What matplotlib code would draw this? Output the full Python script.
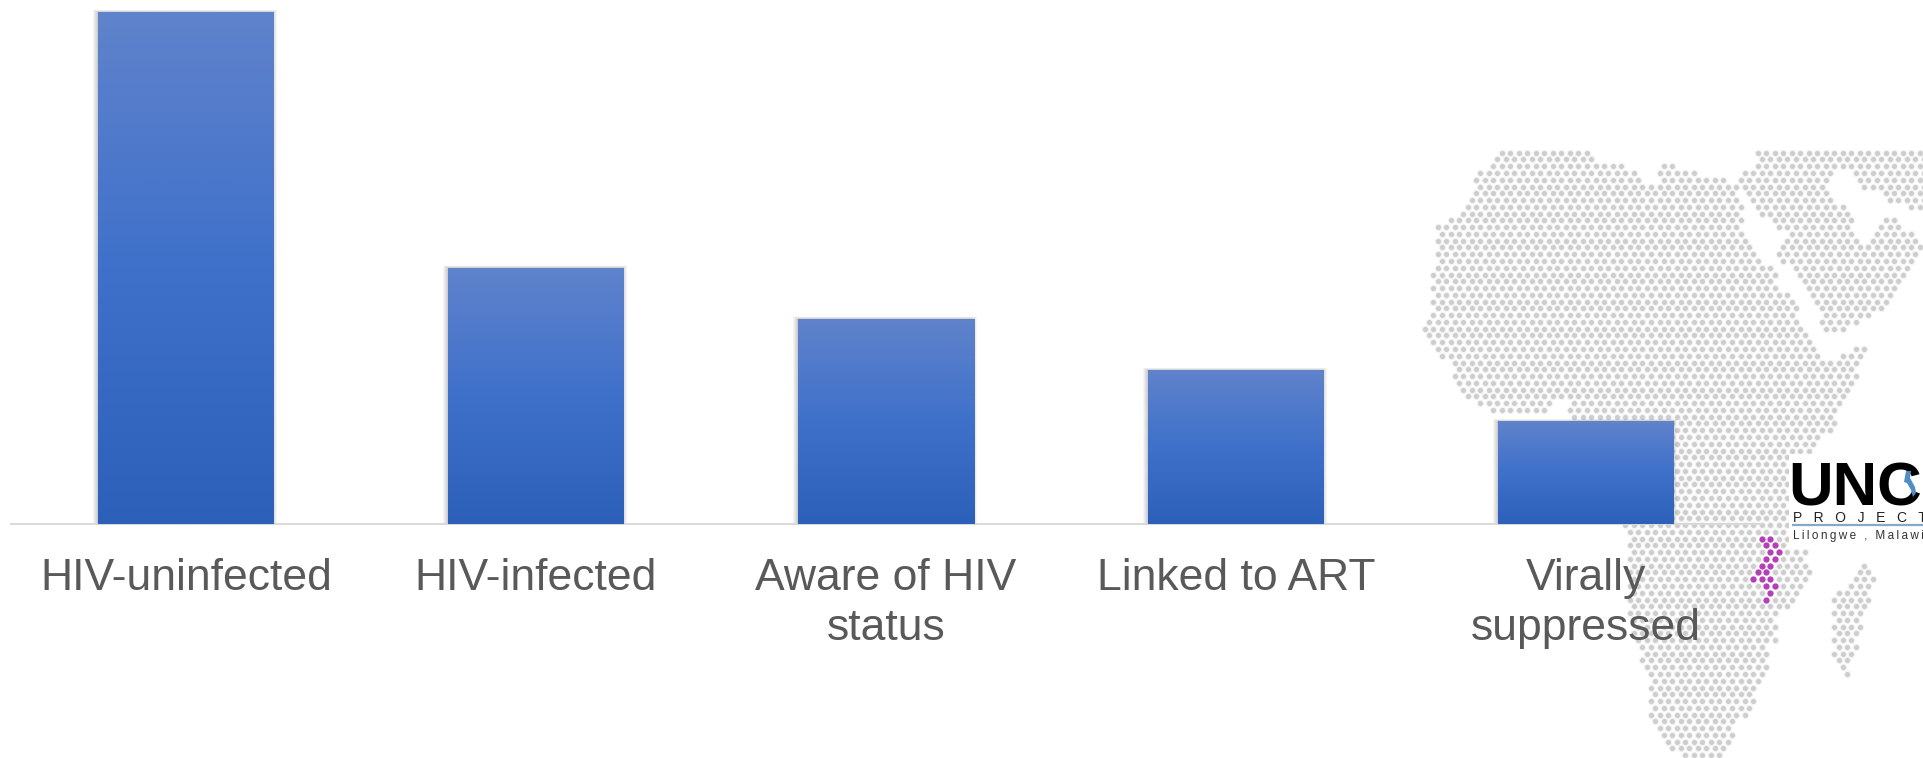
import matplotlib
matplotlib.use("Agg")
import matplotlib.pyplot as plt
import numpy as np
from matplotlib.colors import LinearSegmentedColormap
from matplotlib.patches import Polygon, Rectangle
from matplotlib.path import Path

plt.rcParams["font.family"] = ["Liberation Sans", "DejaVu Sans"]

# Cascade data
categories = ["HIV-uninfected", "HIV-infected", "Aware of HIV\nstatus", "Linked to ART", "Virally\nsuppressed"]
values = [100, 50, 40, 30, 20]

# Backdrop map outlines, in figure pixels
west_africa = [
    (1500, 150), (1590, 150), (1594, 159), (1614, 164), (1637, 170), (1641, 177), (1646, 184), (1655, 184),
    (1663, 164), (1674, 164), (1670, 172), (1683, 171), (1693, 171), (1715, 177), (1737, 184), (1735, 193),
    (1738, 200), (1742, 207), (1742, 220), (1740, 233), (1745, 240), (1752, 247), (1755, 255), (1772, 267),
    (1777, 274), (1775, 287), (1788, 294), (1798, 308), (1798, 322), (1808, 335), (1815, 345), (1830, 361),
    (1843, 355), (1860, 345), (1868, 346), (1857, 374), (1847, 394), (1832, 430), (1817, 445), (1813, 456),
    (1800, 470), (1800, 540), (1807, 552), (1812, 572), (1805, 580), (1793, 600), (1788, 607), (1777, 612),
    (1777, 640), (1770, 647), (1768, 667), (1763, 673), (1757, 687), (1755, 702), (1747, 715), (1733, 722),
    (1733, 735), (1725, 748), (1720, 760), (1683, 760), (1670, 748), (1663, 735), (1657, 728), (1648, 713),
    (1648, 673), (1642, 660), (1636, 645), (1630, 615), (1627, 602), (1630, 550), (1623, 526), (1600, 470),
    (1573, 417), (1567, 408), (1567, 401), (1557, 401), (1547, 412), (1492, 412), (1478, 405), (1467, 399),
    (1463, 390), (1453, 375), (1453, 362), (1440, 357), (1432, 342), (1421, 328), (1430, 314), (1430, 301),
    (1434, 294), (1430, 287), (1434, 281), (1430, 274), (1434, 267), (1438, 261), (1434, 254), (1438, 247),
    (1434, 240), (1434, 225), (1450, 218), (1460, 213), (1465, 205), (1469, 198), (1473, 191), (1476, 186),
    (1471, 179), (1476, 171), (1490, 164),
]
arabia = [
    (1755, 150), (1930, 150), (1930, 208), (1908, 207), (1887, 200), (1877, 193), (1863, 187), (1857, 179),
    (1850, 170), (1835, 170), (1833, 175), (1828, 187), (1833, 200), (1845, 207), (1855, 220), (1855, 233),
    (1862, 243), (1870, 240), (1877, 228), (1883, 218), (1897, 218), (1900, 227), (1912, 233), (1920, 240),
    (1920, 255), (1912, 267), (1902, 280), (1897, 287), (1888, 301), (1883, 308), (1872, 315), (1858, 322),
    (1845, 332), (1825, 332), (1820, 322), (1815, 301), (1810, 294), (1802, 280), (1793, 269), (1778, 262),
    (1778, 247), (1785, 233), (1777, 227), (1772, 220), (1760, 213), (1755, 207), (1752, 200), (1747, 193),
    (1736, 179), (1742, 171), (1753, 166),
]
madagascar = [
    (1864, 561), (1877, 578), (1867, 607), (1860, 627), (1857, 647), (1847, 677), (1831, 653), (1831, 640),
    (1836, 620), (1831, 600), (1835, 590), (1850, 583), (1857, 570),
]
malawi_outline = [
    (1906, 471), (1911, 471), (1910, 478), (1915, 487), (1916, 493), (1913, 497), (1911, 490), (1907, 483), (1904, 482),
]

# Highlighted map cells: row -> columns
highlight_cells = {
    57: [30, 31], 58: [31, 32], 59: [31, 32], 60: [31, 32], 61: [30, 31],
    62: [30, 31], 63: [29, 30, 31], 64: [31, 32], 65: [31], 66: [31],
}

W, H = 1924, 758
fig = plt.figure(figsize=(W / 100, H / 100), dpi=100, facecolor="white")


def dot_size(px):
    return (px * 0.72) ** 2


# Backdrop: hexagonal dot map
bg = fig.add_axes([0, 0, 1, 1], zorder=0)
bg.set_xlim(0, W)
bg.set_ylim(H, 0)
bg.axis("off")

X0, Y0, DX, DY = 1501.7, 152.7, 8.53, 6.77
rows = np.arange(0, 90)
cols = np.arange(-12, 52)
rr, cc = np.meshgrid(rows, cols, indexing="ij")
gx = X0 + DX * (cc + 0.5 * (rr % 2))
gy = Y0 + DY * rr
pts = np.column_stack([gx.ravel(), gy.ravel()])
inside = np.zeros(len(pts), dtype=bool)
for outline in (west_africa, arabia, madagascar):
    p = Path(outline + [outline[0]])
    inside |= p.contains_points(pts)
# Clear the rectangle the logo sits on
logo_box = (pts[:, 0] > 1789) & (pts[:, 1] > 452) & (pts[:, 1] < 547)
inside &= ~logo_box
land = pts[inside]
bg.scatter(land[:, 0], land[:, 1], s=dot_size(7.2), color="#F1F1F1", linewidths=0, zorder=1)
bg.scatter(land[:, 0], land[:, 1], s=dot_size(5.0), color="#CDCDCD", linewidths=0, zorder=2)

hx = [X0 + DX * (c + 0.5 * (r % 2)) for r, cs in highlight_cells.items() for c in cs]
hy = [Y0 + DY * r for r, cs in highlight_cells.items() for c in cs]
bg.scatter(hx, hy, s=dot_size(6.2), color="#B83DBB", linewidths=0, zorder=3)

# Logo block
bg.add_patch(Rectangle((1789, 454), 140, 93, facecolor="white", edgecolor="none", zorder=4))
bg.text(1788, 505, "UNC", fontsize=44.5, fontweight="bold", color="black", va="baseline", ha="left", zorder=5,
        clip_on=True)
bg.add_patch(Polygon(malawi_outline, closed=True, facecolor="#4F8DC4", edgecolor="none", zorder=6))
bg.text(1793, 522, "P   R   O   J   E   C   T", fontsize=10.0, color="#222222", va="baseline", ha="left", zorder=5,
        clip_on=True)
bg.plot([1792, 1924], [525.3, 525.3], color="#84A9CC", lw=1.6, solid_capstyle="butt", zorder=5)
bg.text(1793, 539, "\u2009".join("Lilongwe , Malawi"), fontsize=8.5, color="#333333", va="baseline", ha="left",
        zorder=5, clip_on=True)

# Cascade bars
ax = fig.add_axes([11 / W, (H - 523.6) / H, 1750 / W, 511.6 / H], zorder=1)
ax.patch.set_alpha(0)
x = np.arange(len(categories))
bar_width = 176 / 350
bars = ax.bar(x, values, width=bar_width, color="#3E70CA", linewidth=0, zorder=3)

gradient = LinearSegmentedColormap.from_list("bar_fill", ["#6083CC", "#3F71CA", "#2D60B8"])
ramp = np.linspace(0, 1, 512).reshape(-1, 1)
px_x = 1 / 350
px_y = 100 / 511.6
for bar in bars:
    left, w, h = bar.get_x(), bar.get_width(), bar.get_height()
    # Soft drop shadow built from stacked translucent rectangles, heavier on the left
    for d in np.arange(0.5, 5.5, 0.5):
        x0 = left - (d + 0.4) * px_x
        x1 = left + w + (d - 1.8) * px_x
        y0 = -min(d, 1.6) * px_y
        y1 = h + 0.5 * d * px_y
        ax.add_patch(Rectangle((x0, y0), x1 - x0, y1 - y0, facecolor="black", alpha=0.02,
                               linewidth=0, zorder=2, clip_on=False))
    img = ax.imshow(ramp, cmap=gradient, aspect="auto", extent=(left, left + w, 0, h), zorder=4,
                    interpolation="bilinear", origin="upper")
    img.set_clip_path(bar)

ax.set_xlim(-0.5, len(categories) - 0.5)
ax.set_ylim(0, 100)
ax.set_yticks([])
ax.set_xticks(x)
ax.set_xticklabels(categories, fontsize=32, color="#595959", linespacing=1.27)
ax.tick_params(axis="x", length=0, pad=25)
for side in ("top", "left", "right"):
    ax.spines[side].set_visible(False)
ax.spines["bottom"].set_color("#D9D9D9")
ax.spines["bottom"].set_linewidth(1.4)

fig.savefig("out.png", dpi=100, facecolor="white")
